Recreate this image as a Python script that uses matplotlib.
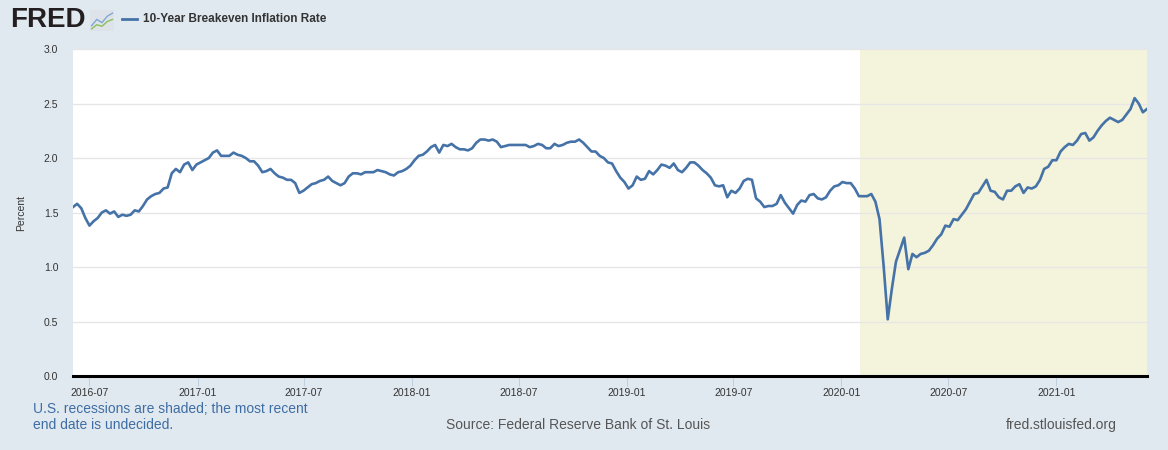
from matplotlib import pyplot as plt
import matplotlib.dates as mdates
import numpy as np
import pandas as pd

plt.rcParams['font.family'] = ['Liberation Sans', 'DejaVu Sans']

# 10-Year Breakeven Inflation Rate, weekly readings (percent)
dates = pd.date_range('2016-06-03', periods=262, freq='7D')

rate = [
    1.55, 1.58, 1.54, 1.45, 1.38, 1.42, 1.45, 1.50, 1.52, 1.49,
    1.51, 1.46, 1.48, 1.47, 1.48, 1.52, 1.51, 1.56, 1.62, 1.65,
    1.67, 1.68, 1.72, 1.73, 1.86, 1.90, 1.87, 1.94, 1.96, 1.89,
    1.94, 1.96, 1.98, 2.00, 2.05, 2.07, 2.02, 2.02, 2.02, 2.05,
    2.03, 2.02, 2.00, 1.97, 1.97, 1.93, 1.87, 1.88, 1.90, 1.86,
    1.83, 1.82, 1.80, 1.80, 1.77, 1.68, 1.70, 1.73, 1.76, 1.77,
    1.79, 1.80, 1.83, 1.79, 1.77, 1.75, 1.77, 1.83, 1.86, 1.86,
    1.85, 1.87, 1.87, 1.87, 1.89, 1.88, 1.87, 1.85, 1.84, 1.87,
    1.88, 1.90, 1.93, 1.98, 2.02, 2.03, 2.06, 2.10, 2.12, 2.05,
    2.12, 2.11, 2.13, 2.10, 2.08, 2.08, 2.07, 2.09, 2.14, 2.17,
    2.17, 2.16, 2.17, 2.15, 2.10, 2.11, 2.12, 2.12, 2.12, 2.12,
    2.12, 2.10, 2.11, 2.13, 2.12, 2.09, 2.09, 2.13, 2.11, 2.12,
    2.14, 2.15, 2.15, 2.17, 2.14, 2.10, 2.06, 2.06, 2.02, 2.00,
    1.96, 1.95, 1.88, 1.82, 1.78, 1.72, 1.75, 1.83, 1.80, 1.81,
    1.88, 1.85, 1.89, 1.94, 1.93, 1.91, 1.95, 1.89, 1.87, 1.91,
    1.96, 1.96, 1.93, 1.89, 1.86, 1.82, 1.75, 1.74, 1.75, 1.64,
    1.70, 1.68, 1.72, 1.79, 1.81, 1.80, 1.63, 1.60, 1.55, 1.56,
    1.56, 1.58, 1.66, 1.59, 1.54, 1.49, 1.57, 1.61, 1.60, 1.66,
    1.67, 1.63, 1.62, 1.64, 1.70, 1.74, 1.75, 1.78, 1.77, 1.77,
    1.72, 1.65, 1.65, 1.65, 1.67, 1.60, 1.44, 1.01, 0.52, 0.80,
    1.05, 1.16, 1.27, 0.98, 1.12, 1.09, 1.12, 1.13, 1.15, 1.20,
    1.26, 1.30, 1.38, 1.37, 1.44, 1.43, 1.48, 1.53, 1.60, 1.67,
    1.68, 1.74, 1.80, 1.70, 1.69, 1.64, 1.62, 1.70, 1.70, 1.74,
    1.76, 1.68, 1.73, 1.72, 1.74, 1.80, 1.90, 1.92, 1.98, 1.98,
    2.06, 2.10, 2.13, 2.12, 2.16, 2.22, 2.23, 2.16, 2.19, 2.25,
    2.30, 2.34, 2.37, 2.35, 2.33, 2.35, 2.40, 2.45, 2.55, 2.50,
    2.42, 2.45,
]

recession_start = '2020-02-01'
tick_dates = ['2016-07-01', '2017-01-01', '2017-07-01', '2018-01-01', '2018-07-01',
              '2019-01-01', '2019-07-01', '2020-01-01', '2020-07-01', '2021-01-01']
y_ticks = [0.0, 0.5, 1.0, 1.5, 2.0, 2.5, 3.0]

bg = '#e1e9f0'
fig = plt.figure(figsize=(11.68, 4.5), dpi=100, facecolor=bg)
ax = fig.add_axes([0.0625, 0.1644, 0.9195, 0.7266])

ax.axvspan(pd.Timestamp(recession_start), dates[-1], color='#f4f4dc', zorder=0, lw=0)
ax.plot(dates, rate, color='#4572a7', lw=1.9, zorder=3)

ax.set_xlim(dates[0], dates[-1])
ax.set_ylim(0, 3.0)
ax.set_yticks(y_ticks)
ax.set_yticklabels(['%.1f' % t for t in y_ticks])
ax.yaxis.grid(True, color='#e6e6e6', lw=1)
ax.set_axisbelow(True)
ax.set_xticks([pd.Timestamp(d) for d in tick_dates])
ax.xaxis.set_major_formatter(mdates.DateFormatter('%Y-%m'))

for s in ['top', 'right', 'left']:
    ax.spines[s].set_visible(False)
ax.spines['bottom'].set_color('black')
ax.spines['bottom'].set_linewidth(2.2)
ax.spines['bottom'].set_zorder(4)
ax.tick_params(axis='y', length=0, pad=10.5, labelsize=7.5, labelcolor='#333333')
ax.tick_params(axis='x', length=7, width=0.8, color='#c0d0e0', pad=1.5, labelsize=7.5,
               labelcolor='#333333')
ax.set_ylabel('Percent', fontsize=7.5, color='#333333', labelpad=13)

# header: logo and legend
fig.text(10 / 1168, 1 - 20 / 450, 'FRED', fontsize=20, fontweight='bold', color='#231f20',
         va='center', ha='left')
icon = fig.add_axes([90 / 1168, 1 - 31 / 450, 24 / 1168, 21 / 450])
icon.set_facecolor('#dde3e8')
icon.plot([0, 1, 2, 3, 4], [1, 2.2, 1.6, 2.8, 3.4], color='#7fa7d4', lw=1)
icon.plot([0, 1, 2, 3, 4], [0.4, 1.2, 0.9, 1.8, 2.2], color='#8bbf5a', lw=1)
icon.set_xlim(-0.3, 4.3)
icon.set_ylim(0, 4)
icon.set_xticks([])
icon.set_yticks([])
for s in icon.spines.values():
    s.set_visible(False)

fig.lines.append(plt.Line2D([122 / 1168, 137 / 1168], [1 - 19 / 450, 1 - 19 / 450],
                            transform=fig.transFigure, color='#4572a7', lw=2))
fig.text(143 / 1168, 1 - 19 / 450, '10-Year Breakeven Inflation Rate', fontsize=8.5,
         fontweight='bold', color='#333333', va='center', ha='left')

# footer
fig.text(33 / 1168, 1 - 409 / 450, 'U.S. recessions are shaded; the most recent',
         fontsize=10, color='#3e6da3', va='center', ha='left')
fig.text(33 / 1168, 1 - 425 / 450, 'end date is undecided.',
         fontsize=10, color='#3e6da3', va='center', ha='left')
fig.text(578 / 1168, 1 - 425 / 450, 'Source: Federal Reserve Bank of St. Louis',
         fontsize=10, color='#555555', va='center', ha='center')
fig.text(1117 / 1168, 1 - 425 / 450, 'fred.stlouisfed.org',
         fontsize=10, color='#555555', va='center', ha='right')

fig.savefig('out.png', dpi=100, facecolor=bg)
